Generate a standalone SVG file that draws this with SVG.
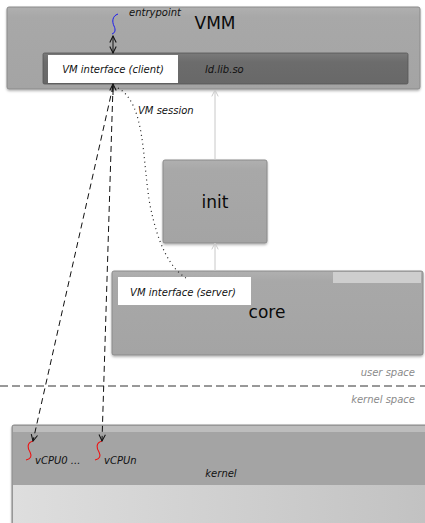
<svg xmlns="http://www.w3.org/2000/svg" width="425" height="523" viewBox="0 0 425 523">
  <style>
    .lbl { font-family: "DejaVu Sans", "Liberation Sans", sans-serif; font-style: italic; font-size: 10px; fill: #111; }
    .big { font-family: "DejaVu Sans", "Liberation Sans", sans-serif; font-size: 17px; fill: #0a0a0a; text-anchor: middle; }
    .space { font-family: "DejaVu Sans", "Liberation Sans", sans-serif; font-style: italic; font-size: 10px; fill: #8a8a8a; text-anchor: end; }
    .box { fill: url(#boxFill); stroke: #8a8a8a; stroke-width: 1; filter: url(#shadow); }
    .tag { fill: #ffffff; }
    .dash { fill: none; stroke: #111; stroke-width: 1; stroke-dasharray: 6 4; }
    .dot { fill: none; stroke: #222; stroke-width: 1.2; stroke-dasharray: 1 3.5; }
    .dep { fill: none; stroke: #c8c8c8; stroke-width: 1; }
  </style>
  <defs>
    <linearGradient id="boxFill" x1="0" y1="0" x2="0" y2="1">
      <stop offset="0" stop-color="#b0b0b0"/>
      <stop offset="0.12" stop-color="#a8a8a8"/>
      <stop offset="1" stop-color="#a4a4a4"/>
    </linearGradient>
    <linearGradient id="libFill" x1="0" y1="0" x2="0" y2="1">
      <stop offset="0" stop-color="#7a7a7a"/>
      <stop offset="0.3" stop-color="#6c6c6c"/>
      <stop offset="1" stop-color="#686868"/>
    </linearGradient>
    <linearGradient id="kernLow" x1="0" y1="0" x2="1" y2="0">
      <stop offset="0" stop-color="#dedede"/>
      <stop offset="1" stop-color="#c2c2c2"/>
    </linearGradient>
    <filter id="shadow" x="-5%" y="-5%" width="110%" height="115%">
      <feDropShadow dx="0" dy="1.5" stdDeviation="1.2" flood-color="#000" flood-opacity="0.3"/>
    </filter>
    <marker id="head" viewBox="0 0 10 10" refX="9" refY="5" markerWidth="8" markerHeight="8" orient="auto-start-reverse" markerUnits="userSpaceOnUse">
      <path d="M1,1 L9,5 L1,9" fill="none" stroke="#111" stroke-width="1.3"/>
    </marker>
    <marker id="headGrey" viewBox="0 0 10 10" refX="9" refY="5" markerWidth="8" markerHeight="8" orient="auto" markerUnits="userSpaceOnUse">
      <path d="M1,1 L9,5 L1,9" fill="none" stroke="#c8c8c8" stroke-width="1.2"/>
    </marker>
  </defs>

  <rect width="425" height="523" fill="#ffffff"/>

  <!-- VMM component with its ld.lib.so library -->
  <g id="vmm">
    <rect class="box" x="7" y="7" width="413" height="82" rx="2"/>
    <text class="big" x="215" y="29" font-size="20">VMM</text>
    <text class="lbl" x="129" y="16">entrypoint</text>
    <path d="M118,14 C112,16 112,22 114,26 C116,30 115,33 112,34" fill="none" stroke="#1a1aee" stroke-width="1"/>
    <rect x="43" y="53" width="365" height="31" rx="1.5" fill="url(#libFill)" stroke="#555" stroke-width="0.8"/>
    <text class="lbl" x="205" y="73" font-size="10.8">ld.lib.so</text>
  </g>

  <g id="vm-client">
    <rect class="tag" x="48" y="55" width="130" height="28"/>
    <text class="lbl" x="113" y="73" text-anchor="middle" font-size="11">VM interface (client)</text>
  </g>

  <!-- init component -->
  <g id="init">
    <rect class="box" x="163" y="160" width="104" height="83" rx="2"/>
    <text class="big" x="215" y="208" font-size="17">init</text>
  </g>

  <!-- core component with the server side of the VM session -->
  <g id="core">
    <rect class="box" x="112" y="271" width="311" height="84" rx="2"/>
    <rect x="333" y="272" width="88" height="11" fill="#cecece"/>
    <text class="big" x="267" y="318" font-size="16.5">core</text>
  </g>

  <g id="vm-server">
    <rect class="tag" x="118" y="277" width="133" height="28"/>
    <text class="lbl" x="183" y="296" text-anchor="middle" font-size="11">VM interface (server)</text>
  </g>

  <!-- user / kernel boundary -->
  <g id="boundary">
    <text class="space" x="415" y="376">user space</text>
    <line x1="0" y1="386" x2="425" y2="386" stroke="#333" stroke-width="1" stroke-dasharray="8 4"/>
    <text class="space" x="415" y="403">kernel space</text>
  </g>

  <!-- kernel with its virtual CPUs -->
  <g id="kernel">
    <rect x="12" y="425" width="420" height="110" rx="2" fill="#a4a4a4" stroke="#8a8a8a" stroke-width="1" filter="url(#shadow)"/>
    <rect x="13" y="426" width="412" height="6" fill="#bdbdbd"/>
    <rect x="13" y="485" width="412" height="38" fill="url(#kernLow)"/>
    <text class="lbl" x="221" y="477" text-anchor="middle">kernel</text>
    <path d="M33,441 C26,443 28,449 30,452 C32,456 31,459 26,460" fill="none" stroke="#ee1111" stroke-width="1.1"/>
    <text class="lbl" x="35" y="464" font-size="11.3">vCPU0 ...</text>
    <path d="M102,441 C95,443 97,449 99,452 C101,456 100,459 95,460" fill="none" stroke="#ee1111" stroke-width="1.1"/>
    <text class="lbl" x="104" y="464" font-size="11.3">vCPUn</text>
  </g>

  <!-- connectors -->
  <g id="connectors">
    <line x1="113" y1="36" x2="113" y2="53" stroke="#111" stroke-width="1" marker-start="url(#head)" marker-end="url(#head)"/>
    <line x1="113" y1="95" x2="113" y2="84" stroke="#111" stroke-width="1" marker-end="url(#head)"/>
    <line class="dash" x1="113" y1="86" x2="33" y2="441" marker-end="url(#head)"/>
    <line class="dash" x1="113" y1="86" x2="102" y2="441" marker-end="url(#head)"/>
    <path class="dot" d="M118,88 C146,104 142,160 150,205 C158,245 170,268 186,278"/>
    <text class="lbl" x="138" y="114" font-size="10.5">VM session</text>
    <line class="dep" x1="215" y1="160" x2="215" y2="90" marker-end="url(#headGrey)"/>
    <line class="dep" x1="215" y1="271" x2="215" y2="243" marker-end="url(#headGrey)"/>
  </g>
</svg>
